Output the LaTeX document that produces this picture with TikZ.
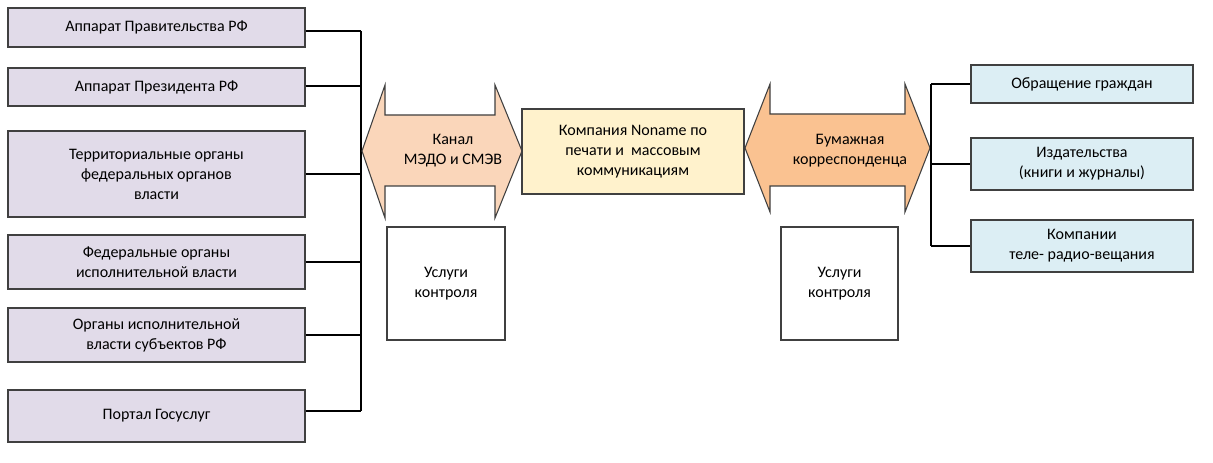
\documentclass[tikz,border=0pt]{standalone}
\usepackage{fontspec}
\setmainfont{Carlito}
\definecolor{lav}{HTML}{E1DBE9}
\definecolor{peach}{HTML}{FAD6BA}
\definecolor{orng}{HTML}{FAC291}
\definecolor{ylw}{HTML}{FFF2CC}
\definecolor{lblue}{HTML}{DCEEF4}
\definecolor{edge}{HTML}{404040}
\begin{document}
\begin{tikzpicture}[x=0.75pt,y=-0.75pt,
  box/.style={draw=edge,line width=1pt,align=center,font=\fontsize{12}{15}\selectfont,inner sep=0pt},
  ln/.style={line width=0.8pt,black}]
\useasboundingbox (0,0) rectangle (1213,463);
\fill[white] (0,0) rectangle (1213,463);
% left boxes
\foreach \n/\a/\b/\t in {l1/8/47/{Аппарат Правительства РФ},l2/68/106/{Аппарат Президента РФ},l3/131/217/{Территориальные органы\\федеральных органов\\власти},l4/235/289/{Федеральные органы\\исполнительной власти},l5/308/362/{Органы исполнительной\\власти субъектов РФ},l6/390/442/{Портал Госуслуг}}{
  \node[box,fill=lav,minimum width=297*0.75pt,minimum height=(\b-\a)*0.75pt] (\n) at (156.5,{(\a+\b)/2}) {\t};
}
\coordinate (vt) at (361,31);
\coordinate (vb) at (361,411);
\draw[ln] (vt) -- (vb);
\foreach \n/\y in {l1/31,l2/86,l3/174,l4/262,l5/335,l6/411}{\draw[ln] (\n.east |- 0,\y) -- (361,\y);}
% left double arrow
\draw[edge,line width=0.8pt,fill=peach] (362,151) -- (385,85) -- (385,115) -- (495,115) -- (495,85) -- (522,151) -- (495,218) -- (495,186) -- (385,186) -- (385,218) -- cycle;
\node[box,draw=none] (a1) at (453,151) {Канал\\МЭДО и СМЭВ};
% center box
\node[box,fill=ylw,minimum width=222*0.75pt,minimum height=85*0.75pt] (c) at (633,151.5) {Компания Noname по\\печати и \ массовым\\коммуникациям};
% right double arrow
\draw[edge,line width=0.8pt,fill=orng] (745,148) -- (770,84) -- (770,114) -- (905,114) -- (905,84) -- (930,148) -- (905,212) -- (905,186) -- (770,186) -- (770,212) -- cycle;
\node[box,draw=none] (a2) at (850,151) {Бумажная\\корреспонденца};
% control boxes
\node[box,fill=white,minimum width=118*0.75pt,minimum height=113*0.75pt] (k1) at (446,283.5) {Услуги\\контроля};
\node[box,fill=white,minimum width=117*0.75pt,minimum height=113*0.75pt] (k2) at (839.5,283.5) {Услуги\\контроля};
% right boxes
\foreach \n/\a/\b/\t in {r1/65/103/{Обращение граждан},r2/138/190/{Издательства\\(книги и журналы)},r3/220/272/{Компании\\теле- радио-вещания}}{
  \node[box,fill=lblue,minimum width=222*0.75pt,minimum height=(\b-\a)*0.75pt] (\n) at (1082,{(\a+\b)/2}) {\t};
}
\draw[ln] (931,84) -- (931,246);
\foreach \n/\y in {r1/84,r2/164,r3/246}{\draw[ln] (931,\y) -- (\n.west |- 0,\y);}
\end{tikzpicture}
\end{document}
